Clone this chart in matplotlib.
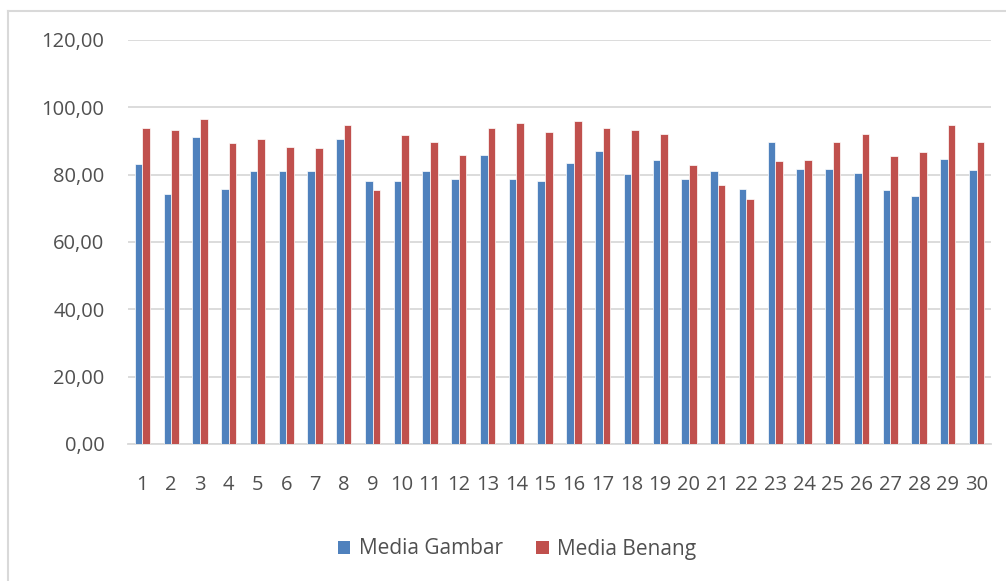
import numpy as np
import matplotlib.pyplot as plt
from matplotlib.patches import Patch
from matplotlib.lines import Line2D
from matplotlib.ticker import FuncFormatter

plt.rcParams['font.family'] = ['Open Sans', 'DejaVu Sans']

# scores per student
students = [str(i) for i in range(1, 31)]
media_gambar = [83.3, 74.4, 91.2, 75.6, 81.0, 81.0, 81.0, 90.5, 78.0, 78.0,
                81.0, 78.6, 85.9, 78.6, 78.0, 83.6, 87.0, 80.1, 84.4, 78.6,
                81.0, 75.6, 89.7, 81.7, 81.7, 80.5, 75.3, 73.7, 84.8, 81.3]
media_benang = [93.9, 93.2, 96.6, 89.4, 90.5, 88.2, 87.9, 94.7, 75.3, 91.7,
                89.7, 85.9, 93.9, 95.4, 92.7, 95.8, 93.9, 93.2, 92.0, 82.8,
                76.8, 72.9, 84.0, 84.4, 89.7, 92.0, 85.5, 86.7, 94.7, 89.7]
series_names = ['Media Gambar', 'Media Benang']
colors = ['#4F81BD', '#C0504D']
text_color = '#505050'
grid_color = '#D9D9D9'

fig = plt.figure(figsize=(10.06, 5.81), dpi=100)
ax = fig.add_axes([128 / 1006, 1 - 444 / 581, (991 - 128) / 1006, (444 - 40) / 581])

x = np.arange(len(students))
w = 0.265
ax.bar(x - w / 2, media_gambar, w, color=colors[0], edgecolor='white', linewidth=0.5, zorder=3)
ax.bar(x + w / 2, media_benang, w, color=colors[1], edgecolor='white', linewidth=0.5, zorder=3)

ax.set_xlim(-0.5, len(students) - 0.5)
ax.set_ylim(0, 120)
ax.set_yticks(np.arange(0, 121, 20))
ax.yaxis.set_major_formatter(FuncFormatter(lambda v, p: f'{v:.2f}'.replace('.', ',')))
ax.set_xticks(x)
ax.set_xticklabels(students)

ax.grid(axis='y', color=grid_color, linewidth=1.3, zorder=0)
for s in ['top', 'right', 'left']:
    ax.spines[s].set_visible(False)
ax.spines['bottom'].set_color(grid_color)
ax.spines['bottom'].set_linewidth(1.3)
ax.tick_params(axis='both', length=0, labelsize=14.5, colors=text_color)
ax.tick_params(axis='y', pad=17)
ax.tick_params(axis='x', pad=22)

handles = [Patch(facecolor=c, edgecolor='none') for c in colors]
fig.legend(handles, series_names, loc='center', bbox_to_anchor=(517 / 1006, 1 - 549 / 581),
           ncol=2, frameon=False, fontsize=15, labelcolor=text_color,
           handlelength=0.6, handleheight=0.6, handletextpad=0.4, columnspacing=1.6)

# chart frame (left and top edges visible)
fig.add_artist(Line2D([8 / 1006, 8 / 1006], [0, 1 - 11 / 581], transform=fig.transFigure,
                      color='#D9D9D9', linewidth=1.5))
fig.add_artist(Line2D([8 / 1006, 1], [1 - 11 / 581, 1 - 11 / 581], transform=fig.transFigure,
                      color='#D9D9D9', linewidth=1.5))

fig.savefig('out.png', dpi=100)
